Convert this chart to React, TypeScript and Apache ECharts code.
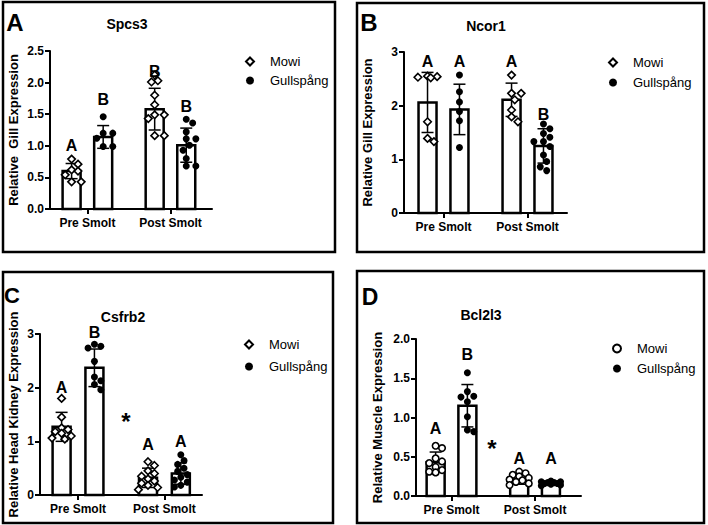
import { useEffect, useRef } from 'react';
import * as echarts from 'echarts';

const groupLabels = ['Pre Smolt', 'Post Smolt'];
const seriesNames = ['Mowi', 'Gullspång'];

// Panel A – Spcs3 (gill)
const spcs3PreMowi = [0.79, 0.71, 0.62, 0.6, 0.54, 0.43, 0.43];
const spcs3PreGull = [1.46, 1.2, 1.2, 1.12, 0.99, 0.99];
const spcs3PostMowi = [2.12, 2.03, 2.01, 1.8, 1.65, 1.49, 1.49, 1.43, 1.16, 1.16];
const spcs3PostGull = [1.42, 1.36, 1.22, 1.11, 1.11, 1.01, 0.93, 0.8, 0.68, 0.68];
const spcs3Mean = [0.6, 1.14, 1.58, 1.01];
const spcs3SD = [0.12, 0.18, 0.33, 0.27];
const spcs3Letters = ['A', 'B', 'B', 'B'];
const spcs3LetterY = [1.01, 1.74, 2.17, 1.62];

// Panel B – Ncor1 (gill)
const ncor1PreMowi = [2.55, 2.54, 2.53, 2.52, 1.7, 1.39, 1.33];
const ncor1PreGull = [2.57, 2.26, 2.07, 1.89, 1.72, 1.22];
const ncor1PostMowi = [2.57, 2.23, 2.23, 2.11, 1.92, 1.79, 1.7];
const ncor1PostGull = [1.66, 1.57, 1.48, 1.41, 1.33, 1.33, 1.24, 1.08, 0.96, 0.86, 0.79];
const ncor1Mean = [2.06, 1.93, 2.11, 1.25];
const ncor1SD = [0.56, 0.47, 0.31, 0.32];
const ncor1Letters = ['A', 'A', 'A', 'B'];
const ncor1LetterY = [2.82, 2.82, 2.82, 1.83];

// Panel C – Csfrb2 (head kidney)
const csfrb2PreMowi = [1.8, 1.45, 1.25, 1.22, 1.18, 1.15, 1.1, 1.06, 1.04];
const csfrb2PreGull = [2.81, 2.77, 2.74, 2.49, 2.2, 2.13, 2.06, 1.96];
const csfrb2PostMowi = [0.62, 0.55, 0.45, 0.4, 0.35, 0.3, 0.26, 0.22, 0.18, 0.14, 0.1];
const csfrb2PostGull = [0.75, 0.64, 0.57, 0.5, 0.44, 0.38, 0.33, 0.28, 0.24, 0.18, 0.15];
const csfrb2Mean = [1.27, 2.37, 0.32, 0.4];
const csfrb2SD = [0.27, 0.35, 0.18, 0.2];
const csfrb2Letters = ['A', 'B', 'A', 'A'];
const csfrb2LetterY = [2.0, 3.02, 0.94, 0.99];
const csfrb2Star = [2.11, 1.44];

// Panel D – Bcl2l3 (muscle)
const bcl2l3PreMowi = [0.64, 0.61, 0.48, 0.44, 0.42, 0.37, 0.33, 0.31, 0.3];
const bcl2l3PreGull = [1.57, 1.33, 1.27, 1.26, 1.2, 1.01, 0.84, 0.82];
const bcl2l3PostMowi = [0.31, 0.29, 0.27, 0.25, 0.23, 0.21, 0.2, 0.18, 0.16, 0.14];
const bcl2l3PostGull = [0.19, 0.18, 0.18, 0.17, 0.17, 0.16, 0.16, 0.15, 0.14, 0.13];
const bcl2l3Mean = [0.43, 1.15, 0.21, 0.16];
const bcl2l3SD = [0.13, 0.27, 0.06, 0.02];
const bcl2l3Letters = ['A', 'B', 'A', 'A'];
const bcl2l3LetterY = [0.86, 1.8, 0.48, 0.48];
const bcl2l3Star = [1.97, 0.66];

const FONT = 'Liberation Sans, Arial, sans-serif';
const groupCenters = [1, 3];
const barOffset = 0.38;

type Panel = {
  letter: string;
  title: string;
  yName: string;
  points: number[][];
  mean: number[];
  sd: number[];
  letters: string[];
  letterY: number[];
  star?: number[];
  yMax: number;
  yInterval: number;
  decimals: number;
  grid: { left: number; top: number; width: number; height: number };
  xRange: [number, number];
  legend: [number, number, number];
  mowiIcon: string;
  frame: [number, number, number, number];
  letterPos: [number, number, number];
  titlePos: [number, number];
  nameGap: number;
};

const panels: Panel[] = [
  {
    letter: 'A', title: 'Spcs3', yName: 'Relative  Gill Expression',
    points: [spcs3PreMowi, spcs3PreGull, spcs3PostMowi, spcs3PostGull],
    mean: spcs3Mean, sd: spcs3SD, letters: spcs3Letters, letterY: spcs3LetterY,
    yMax: 2.5, yInterval: 0.5, decimals: 1,
    grid: { left: 50, top: 51, width: 162, height: 158 },
    xRange: [0.1, 4.0], legend: [249, 62, 6], mowiIcon: 'diamond',
    frame: [3, 2, 332, 250], letterPos: [15, 22, 24], titlePos: [127, 24], nameGap: 30,
  },
  {
    letter: 'B', title: 'Ncor1', yName: 'Relative Gill Expression',
    points: [ncor1PreMowi, ncor1PreGull, ncor1PostMowi, ncor1PostGull],
    mean: ncor1Mean, sd: ncor1SD, letters: ncor1Letters, letterY: ncor1LetterY,
    yMax: 3, yInterval: 1, decimals: 0,
    grid: { left: 404, top: 52, width: 163, height: 161 },
    xRange: [0.06, 3.94], legend: [612, 63, 7], mowiIcon: 'diamond',
    frame: [357, 3, 347, 249], letterPos: [369, 22, 24], titlePos: [486, 26], nameGap: 30,
  },
  {
    letter: 'C', title: 'Csfrb2', yName: 'Relative Head Kidney Expression',
    points: [csfrb2PreMowi, csfrb2PreGull, csfrb2PostMowi, csfrb2PostGull],
    mean: csfrb2Mean, sd: csfrb2SD, letters: csfrb2Letters, letterY: csfrb2LetterY, star: csfrb2Star,
    yMax: 3, yInterval: 1, decimals: 0,
    grid: { left: 40, top: 334, width: 162, height: 161 },
    xRange: [0.12, 3.87], legend: [248, 345, 9], mowiIcon: 'diamond',
    frame: [3, 272, 330, 251], letterPos: [12, 295, 22], titlePos: [123, 317], nameGap: 20,
  },
  {
    letter: 'D', title: 'Bcl2l3', yName: 'Relative Muscle Expression',
    points: [bcl2l3PreMowi, bcl2l3PreGull, bcl2l3PostMowi, bcl2l3PostGull],
    mean: bcl2l3Mean, sd: bcl2l3SD, letters: bcl2l3Letters, letterY: bcl2l3LetterY, star: bcl2l3Star,
    yMax: 2, yInterval: 0.5, decimals: 1,
    grid: { left: 416, top: 339, width: 165, height: 157 },
    xRange: [0.15, 4.1], legend: [616, 349, 7], mowiIcon: 'circle',
    frame: [357, 271, 347, 252], letterPos: [370, 297, 23], titlePos: [481, 315], nameGap: 32,
  },
];

function barX(j: number) {
  const g = groupCenters[j < 2 ? 0 : 1];
  return g + (j % 2 === 0 ? -barOffset : barOffset);
}

// compact beeswarm: points stay within the bar, overlap allowed when crowded
function swarm(values: number[], center: number, pxX: number, pxY: number, d = 6.5) {
  const order = values.map((_, i) => i).sort((a, b) => values[b] - values[a]);
  const placed: { x: number; y: number }[] = [];
  const out: number[][] = new Array(values.length);
  const step = 3.2;
  const cands = [0, step, -step, 2 * step, -2 * step, 3 * step, -3 * step];
  for (const i of order) {
    const y = values[i] * pxY;
    let chosen = 0;
    let best = -1;
    for (const off of cands) {
      const dist = placed.length ? Math.min(...placed.map((p) => Math.hypot(p.x - off, p.y - y))) : Infinity;
      if (dist >= d) {
        chosen = off;
        best = Infinity;
        break;
      }
      if (dist > best) {
        best = dist;
        chosen = off;
      }
    }
    placed.push({ x: chosen, y });
    out[i] = [center + chosen / pxX, values[i]];
  }
  return out;
}

function buildOption() {
  const grid: any[] = [];
  const xAxis: any[] = [];
  const yAxis: any[] = [];
  const series: any[] = [];
  const legend: any[] = [];
  const graphic: any[] = [];

  panels.forEach((p, i) => {
    grid.push({ ...p.grid, containLabel: false, outerBoundsMode: 'none' });
    xAxis.push({
      type: 'value', gridIndex: i, min: p.xRange[0], max: p.xRange[1],
      splitLine: { show: false },
      axisLine: { show: true, lineStyle: { color: '#000', width: 2 } },
      axisTick: { show: true, customValues: groupCenters, length: 5, lineStyle: { color: '#000', width: 2 } },
      axisLabel: {
        show: true, customValues: groupCenters, margin: 8,
        formatter: (v: number) => groupLabels[Math.round((v - 1) / 2)] ?? '',
        color: '#000', fontFamily: FONT, fontWeight: 'bold', fontSize: 12,
      },
    });
    yAxis.push({
      type: 'value', gridIndex: i, min: 0, max: p.yMax, interval: p.yInterval,
      name: p.yName, nameLocation: 'middle', nameGap: p.nameGap,
      nameTextStyle: { color: '#000', fontFamily: FONT, fontWeight: 'bold', fontSize: 13 },
      splitLine: { show: false },
      axisLine: { show: true, lineStyle: { color: '#000', width: 2 } },
      axisTick: { show: true, length: 5, lineStyle: { color: '#000', width: 2 } },
      axisLabel: {
        margin: 6, color: '#000', fontFamily: FONT, fontWeight: 'bold', fontSize: 12,
        formatter: (v: number) => v.toFixed(p.decimals),
      },
    });

    // bars + SD error bars
    series.push({
      type: 'custom', name: 'bars' + p.letter, xAxisIndex: i, yAxisIndex: i, z: 2,
      data: p.mean.map((m, j) => [barX(j), m, p.sd[j]]),
      renderItem: (_params: any, api: any) => {
        const x = api.value(0);
        const m = api.value(1);
        const s = api.value(2);
        const top = api.coord([x, m]);
        const base = api.coord([x, 0]);
        const hi = api.coord([x, m + s]);
        const lo = api.coord([x, Math.max(0, m - s)]);
        const hw = 9;
        const cap = 6;
        const ls = { stroke: '#000', lineWidth: 1.5 };
        return {
          type: 'group',
          children: [
            { type: 'rect', shape: { x: top[0] - hw, y: top[1], width: hw * 2, height: base[1] - top[1] }, style: { fill: '#fff', stroke: '#000', lineWidth: 2.5 } },
            { type: 'line', shape: { x1: hi[0], y1: hi[1], x2: lo[0], y2: lo[1] }, style: ls },
            { type: 'line', shape: { x1: hi[0] - cap, y1: hi[1], x2: hi[0] + cap, y2: hi[1] }, style: ls },
            { type: 'line', shape: { x1: lo[0] - cap, y1: lo[1], x2: lo[0] + cap, y2: lo[1] }, style: ls },
          ],
        };
      },
    });

    const pxX = p.grid.width / (p.xRange[1] - p.xRange[0]);
    const pxY = p.grid.height / p.yMax;
    const mowiPts = [...swarm(p.points[0], barX(0), pxX, pxY), ...swarm(p.points[2], barX(2), pxX, pxY)];
    const gullPts = [...swarm(p.points[1], barX(1), pxX, pxY), ...swarm(p.points[3], barX(3), pxX, pxY)];
    series.push({
      type: 'scatter', name: seriesNames[0], xAxisIndex: i, yAxisIndex: i, z: 3,
      symbol: p.mowiIcon, symbolSize: p.mowiIcon === 'diamond' ? 7.5 : 6.5,
      itemStyle: { color: '#fff', borderColor: '#000', borderWidth: 1.6, opacity: 1 },
      data: mowiPts,
    });
    series.push({
      type: 'scatter', name: seriesNames[1], xAxisIndex: i, yAxisIndex: i, z: 3,
      symbol: 'circle', symbolSize: 7,
      itemStyle: { color: '#000', borderColor: '#000', borderWidth: 0, opacity: 1 },
      data: gullPts,
    });

    // significance letters
    series.push({
      type: 'custom', name: 'letters' + p.letter, xAxisIndex: i, yAxisIndex: i, z: 4,
      data: p.letterY.map((y, j) => [barX(j), y]),
      renderItem: (params: any, api: any) => {
        const c = api.coord([api.value(0), api.value(1)]);
        return {
          type: 'text', x: c[0], y: c[1],
          style: { text: p.letters[params.dataIndex], fill: '#000', fontSize: 16, fontWeight: 'bold', fontFamily: FONT, align: 'center', verticalAlign: 'middle' },
        };
      },
    });

    if (p.star) {
      series.push({
        type: 'custom', name: 'star' + p.letter, xAxisIndex: i, yAxisIndex: i, z: 4,
        data: [p.star],
        renderItem: (_params: any, api: any) => {
          const c = api.coord([api.value(0), api.value(1)]);
          return {
            type: 'text', x: c[0], y: c[1] + 4,
            style: { text: '*', fill: '#000', fontSize: 24, fontWeight: 'bold', fontFamily: FONT, align: 'center', verticalAlign: 'middle' },
          };
        },
      });
    }

    legend.push({
      orient: 'vertical', left: p.legend[0] - 4, top: p.legend[1] - 7,
      itemWidth: 8, itemHeight: 8, itemGap: p.legend[2], padding: 0,
      selectedMode: false,
      data: [
        { name: seriesNames[0], icon: p.mowiIcon },
        { name: seriesNames[1], icon: 'circle' },
      ],
      textStyle: { color: '#000', fontFamily: FONT, fontSize: 13, padding: [0, 0, 0, 11] },
    });

    graphic.push({
      type: 'rect', shape: { x: p.frame[0], y: p.frame[1], width: p.frame[2], height: p.frame[3] },
      style: { fill: 'none', stroke: '#000', lineWidth: 2.5 }, z: 0,
    });
    graphic.push({
      type: 'text', x: p.letterPos[0], y: p.letterPos[1],
      style: { text: p.letter, fill: '#000', fontSize: p.letterPos[2], fontWeight: 'bold', fontFamily: FONT, align: 'center', verticalAlign: 'middle' },
    });
    graphic.push({
      type: 'text', x: p.titlePos[0], y: p.titlePos[1],
      style: { text: p.title, fill: '#000', fontSize: 14, fontWeight: 'bold', fontFamily: FONT, align: 'center', verticalAlign: 'middle' },
    });
  });

  return {
    animation: false,
    backgroundColor: '#fff',
    grid, xAxis, yAxis, series, legend, graphic,
  };
}

export default function App() {
  const ref = useRef<HTMLDivElement>(null);
  useEffect(() => {
    document.body.style.margin = '0';
    const chart = echarts.init(ref.current!, null, { renderer: 'svg' });
    chart.setOption(buildOption() as any);
    return () => chart.dispose();
  }, []);
  return <div ref={ref} style={{ width: 708, height: 525 }} />;
}
